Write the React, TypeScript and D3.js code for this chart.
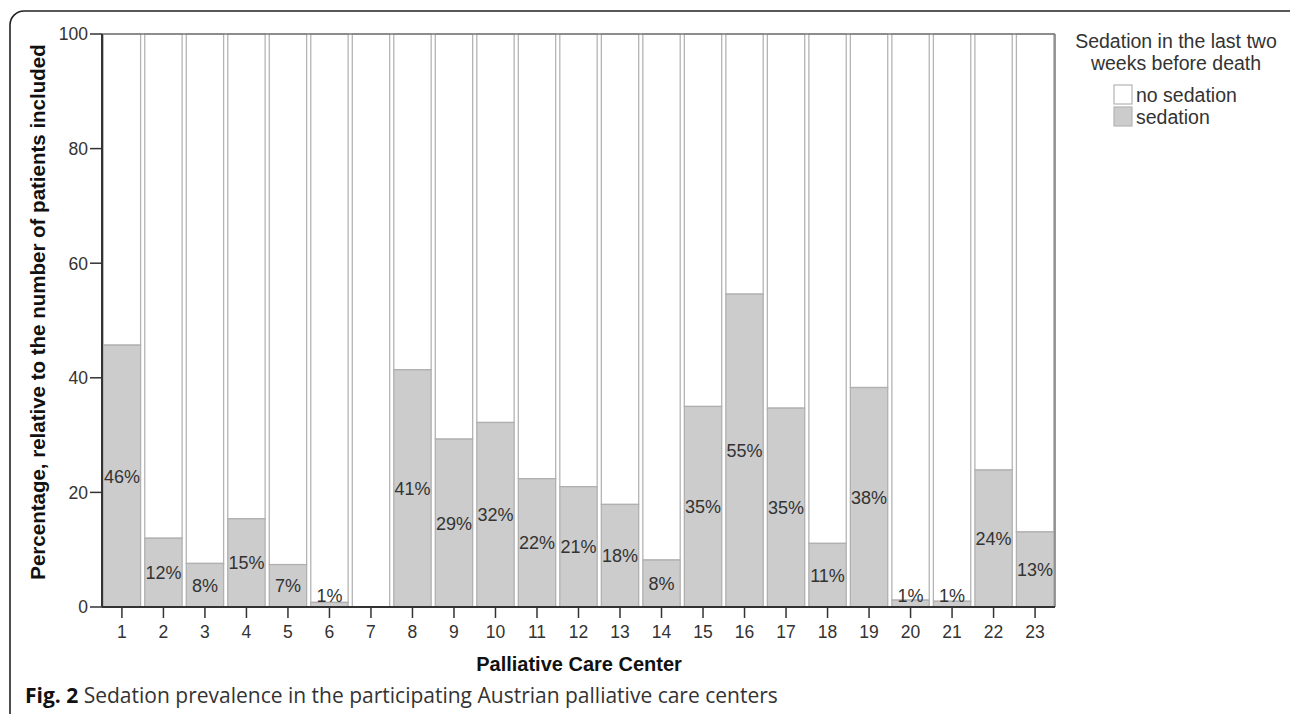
import * as d3 from "d3";

const centers = ["1","2","3","4","5","6","7","8","9","10","11","12","13","14","15","16","17","18","19","20","21","22","23"];
const sedation = [45.7, 12.0, 7.6, 15.4, 7.4, 0.8, 0, 41.4, 29.3, 32.2, 22.4, 21.0, 17.9, 8.2, 35.0, 54.6, 34.7, 11.1, 38.3, 1.2, 1.0, 23.9, 13.1];
const yTicks = [0, 20, 40, 60, 80, 100];
const legendItems = ["no sedation", "sedation"];
const legendColors = ["#ffffff", "#cccccc"];

const W = 1290;
const H = 714;
const left = 102;
const right = 1055;
const top = 34;
const bottom = 607;
const sans = "Arial, 'Liberation Sans', Arimo, sans-serif";

export default function App() {
  const x = d3.scaleBand().domain(centers).range([left, right]).paddingInner(0.1).paddingOuter(0.03);
  const y = d3.scaleLinear().domain([0, 100]).range([bottom, top]);
  const fmt = d3.format(".0f");

  return (
    <svg width={W} height={H} style={{ position: "absolute", left: 0, top: 0, background: "#fff" }}>
      {/* outer frame */}
      <rect x={10} y={11} width={W + 20} height={H + 20} rx={14} fill="none" stroke="#222" strokeWidth={1.6} />

      {/* bars */}
      {centers.map((c, i) => {
        const bx = x(c);
        const bw = x.bandwidth();
        const v = sedation[i];
        const mid = (y(v) + bottom) / 2;
        const ly = Math.min(mid, bottom - 11);
        return (
          <g key={c}>
            <rect x={bx} y={y(100)} width={bw} height={y(v) - y(100)} fill="#fff" stroke="#b4b4b4" strokeWidth={1.3} />
            {v > 0 && (
              <rect x={bx} y={y(v)} width={bw} height={bottom - y(v)} fill={legendColors[1]} stroke="#b0b0b0" strokeWidth={1.3} />
            )}
            {v > 0 && (
              <text x={bx + bw / 2} y={ly} dy="0.36em" textAnchor="middle" fontFamily={sans} fontSize={18} fill="#333">
                {fmt(v) + "%"}
              </text>
            )}
          </g>
        );
      })}

      {/* plot frame */}
      <line x1={left} x2={right} y1={top} y2={top} stroke="#777" strokeWidth={1.5} />
      <line x1={right} x2={right} y1={top} y2={bottom} stroke="#777" strokeWidth={1.5} />
      <line x1={left} x2={left} y1={top} y2={bottom} stroke="#333" strokeWidth={2} />
      <line x1={left} x2={right} y1={bottom} y2={bottom} stroke="#333" strokeWidth={2} />

      {/* y axis */}
      {yTicks.map((t) => (
        <g key={t}>
          <line x1={left - 12} x2={left} y1={y(t)} y2={y(t)} stroke="#333" strokeWidth={1.5} />
          <text x={left - 14} y={y(t)} dy="0.36em" textAnchor="end" fontFamily={sans} fontSize={17.5} fill="#333">
            {t}
          </text>
        </g>
      ))}

      {/* x axis */}
      {centers.map((c) => (
        <g key={"t" + c}>
          <line x1={x(c) + x.bandwidth() / 2} x2={x(c) + x.bandwidth() / 2} y1={bottom} y2={bottom + 11} stroke="#333" strokeWidth={1.5} />
          <text x={x(c) + x.bandwidth() / 2} y={638} textAnchor="middle" fontFamily={sans} fontSize={17.5} fill="#333">
            {c}
          </text>
        </g>
      ))}

      <text x={579} y={671} textAnchor="middle" fontFamily={sans} fontWeight="bold" fontSize={20} fill="#111">
        Palliative Care Center
      </text>
      <text transform={`translate(45,312) rotate(-90)`} textAnchor="middle" fontFamily={sans} fontWeight="bold" fontSize={20.5} fill="#111">
        Percentage, relative to the number of patients included
      </text>

      {/* legend */}
      <text x={1176} y={48} textAnchor="middle" fontFamily={sans} fontSize={19.5} fill="#333">Sedation in the last two</text>
      <text x={1176} y={70} textAnchor="middle" fontFamily={sans} fontSize={19.5} fill="#333">weeks before death</text>
      {legendItems.map((d, i) => (
        <g key={d}>
          <rect x={1114} y={85 + i * 22} width={18} height={19} fill={legendColors[i]} stroke="#b4b4b4" strokeWidth={1.2} />
          <text x={1136} y={102 + i * 22} fontFamily={sans} fontSize={19.5} fill="#333">{d}</text>
        </g>
      ))}

      {/* caption */}
      <text x={25} y={703} fontFamily="'Open Sans', sans-serif" fontSize={21} fill="#333">
        <tspan fontWeight="bold" fill="#111">Fig. 2</tspan>
        <tspan> Sedation prevalence in the participating Austrian palliative care centers</tspan>
      </text>
    </svg>
  );
}
